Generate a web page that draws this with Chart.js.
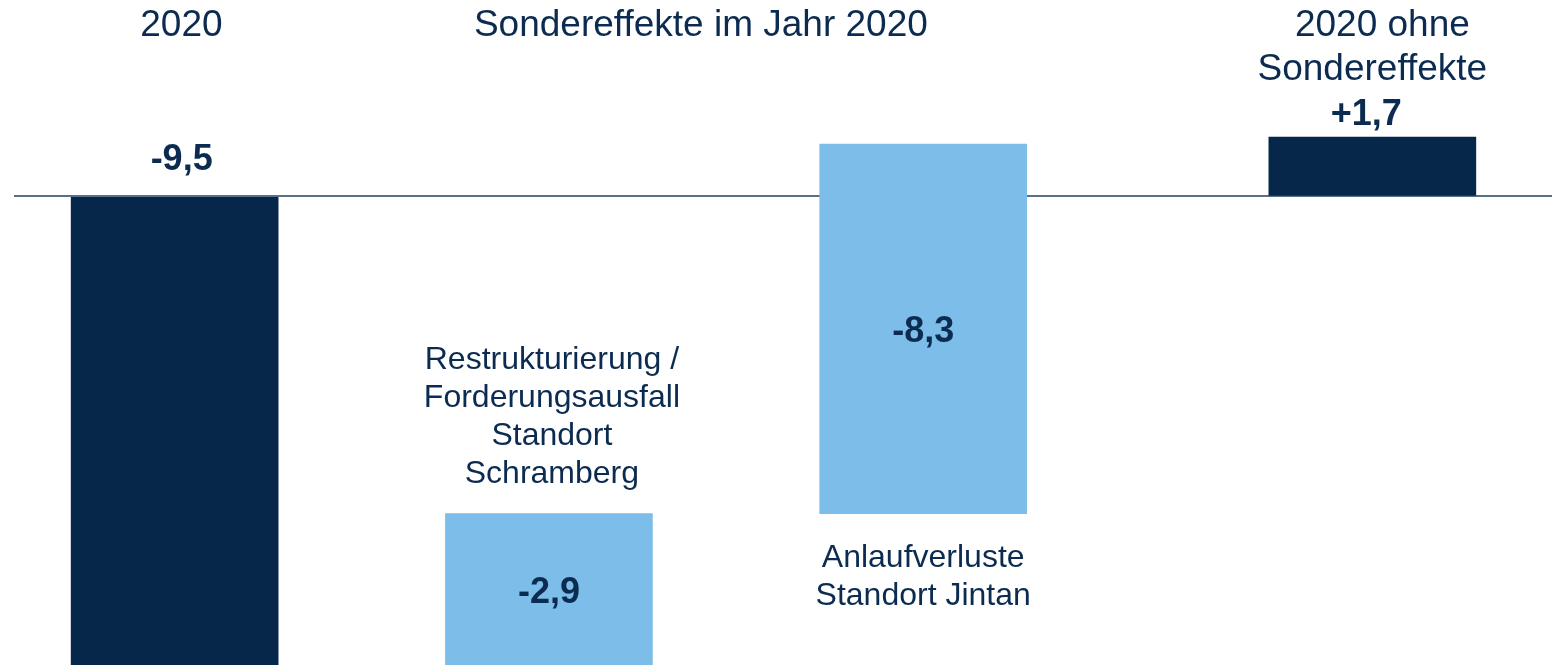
<!DOCTYPE html>
<html>
<head>
<meta charset="utf-8">
<script src="https://cdn.jsdelivr.net/npm/chart.js@4/dist/chart.umd.min.js"></script>
<style>
  html, body { margin: 0; padding: 0; background: #ffffff; }
  #wrap { width: 1552px; height: 665px; position: relative; }
</style>
</head>
<body>
<div id="wrap"><canvas id="c"></canvas></div>
<script>
// ---- data ----
const categories = ['2020', 'Restrukturierung / Forderungsausfall Standort Schramberg', 'Anlaufverluste Standort Jintan', '2020 ohne Sondereffekte'];
const values = [-9.5, -2.9, -8.3, 1.7];           // printed values (Mio. EUR)
const slotPositions = [0, 5, 10, 16];              // bar slots along the x axis
const barLow = [0, -14, -9.08, 0];                 // bar extents as drawn in the picture
const barHigh = [-14, -9.08, 1.5, 1.7];
const headerTexts = [['2020'], ['Sondereffekte im Jahr 2020'], ['2020 ohne', 'Sondereffekte']];
const headerSlots = [0.09, 7.03, 16];
const categoryLines = [[], ['Restrukturierung /', 'Forderungsausfall', 'Standort', 'Schramberg'], ['Anlaufverluste', 'Standort Jintan'], []];

// ---- styles ----
const DARK = '#062749';
const LIGHT = '#7dbde9';
const TEXT = '#0b2b50';
const LINE = '#5a7088';
const barColors = [DARK, LIGHT, LIGHT, DARK];
const FONT = '"Liberation Sans", Arial, Helvetica, sans-serif';

function fmt(v) {
  const s = Math.abs(v).toFixed(1).replace('.', ',');
  return (v > 0 ? '+' : '-') + s;
}

// label layout: [dx px from bar centre, baseline y in axis units]
const valueLabelLayout = [[7, 0.76], [0, -11.63], [0, -4.16], [-6, 2.05]];
const categoryLayout = [null, { dx: 3, baselines: [-4.94, -6.03, -7.12, -8.21] }, { dx: 0, baselines: [-10.6, -11.69] }, null];
const headerBaselines = [36, 80];

const textPlugin = {
  id: 'texts',
  afterDatasetsDraw(chart) {
    const { ctx, scales } = chart;
    const xs = scales.x, ys = scales.y;
    ctx.save();
    ctx.fillStyle = TEXT;
    ctx.textAlign = 'center';
    ctx.textBaseline = 'alphabetic';
    // headers
    ctx.font = '37px ' + FONT;
    headerTexts.forEach((lines, i) => {
      const cx = xs.getPixelForValue(headerSlots[i]);
      lines.forEach((ln, j) => {
        let dx = 0;
        if (i === 2 && j === 0) dx = 10;
        ctx.fillText(ln, cx + dx, headerBaselines[j]);
      });
    });
    // value labels
    ctx.font = 'bold 36px ' + FONT;
    values.forEach((v, i) => {
      const cx = xs.getPixelForValue(slotPositions[i]) + valueLabelLayout[i][0];
      const y = ys.getPixelForValue(valueLabelLayout[i][1]);
      ctx.fillText(fmt(v), cx, y);
    });
    // category labels
    ctx.font = '32px ' + FONT;
    categoryLines.forEach((lines, i) => {
      const lay = categoryLayout[i];
      if (!lay) return;
      const cx = xs.getPixelForValue(slotPositions[i]) + lay.dx;
      lines.forEach((ln, j) => ctx.fillText(ln, cx, ys.getPixelForValue(lay.baselines[j])));
    });
    ctx.restore();
  }
};

new Chart(document.getElementById('c'), {
  type: 'bar',
  data: {
    datasets: [{
      label: 'Ergebnis',
      data: slotPositions.map((x, i) => ({ x: x, y: [barLow[i], barHigh[i]] })),
      backgroundColor: barColors,
      borderWidth: 0,
      borderSkipped: false,
      barThickness: 207
    }]
  },
  options: {
    responsive: true,
    maintainAspectRatio: false,
    animation: false,
    layout: { padding: { left: 14, right: 0, top: 0, bottom: 0 } },
    plugins: { legend: { display: false }, tooltip: { enabled: false }, title: { display: false } },
    scales: {
      x: { type: 'linear', display: false, min: -2.146, max: 18.40, offset: false },
      y: {
        type: 'linear',
        min: -13.41,
        max: 5.62,
        afterBuildTicks: (scale) => { scale.ticks = [{ value: 0 }]; },
        ticks: { display: false },
        border: { display: false },
        grid: {
          drawTicks: false,
          lineWidth: 2,
          color: (c) => (c.tick && c.tick.value === 0 ? LINE : 'rgba(0,0,0,0)')
        }
      }
    }
  },
  plugins: [textPlugin]
});
</script>
</body>
</html>
